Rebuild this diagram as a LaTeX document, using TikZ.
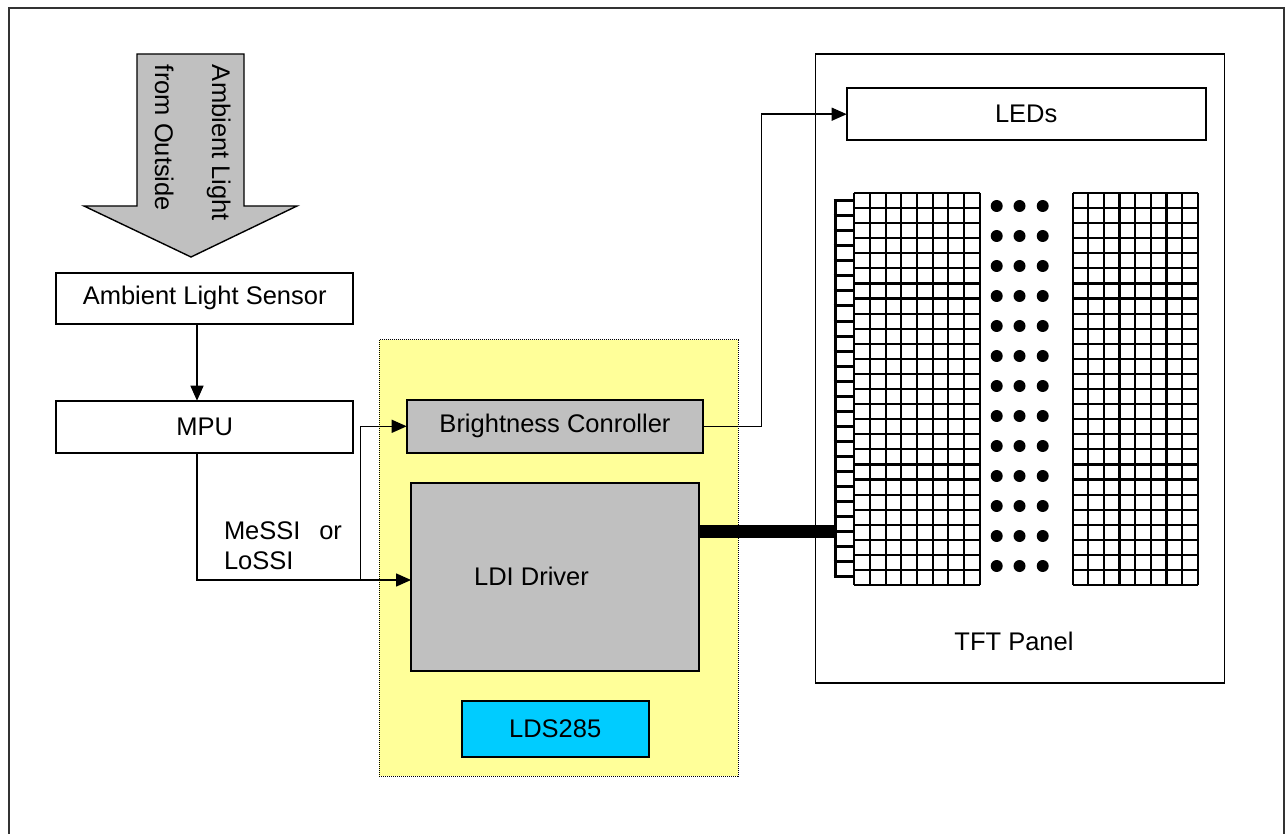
\documentclass[tikz,border=0pt]{standalone}
\usepackage{fontspec}
\setmainfont{Liberation Sans}
\usetikzlibrary{arrows.meta}
\definecolor{boxgray}{HTML}{C0C0C0}
\definecolor{chipyellow}{HTML}{FFFF99}
\definecolor{chipcyan}{HTML}{00CCFF}
\definecolor{framegray}{HTML}{333333}
\begin{document}
\begin{tikzpicture}[x=1pt,y=-1pt,
  font=\fontsize{25.5}{30.6}\selectfont,
  blk/.style={draw=black, line width=1.9pt, inner sep=0pt, outer sep=0pt, fill=white},
  conn/.style={draw=black, line width=1.4pt},
  arr/.style={conn, -{Triangle[length=15pt,width=13pt]}},
  gridln/.style={line width=2.2pt, black},
  rung/.style={line width=3pt, black},
  lbl/.style={inner sep=0pt, outer sep=0pt},
]
\useasboundingbox (0,0) rectangle (1288,834);
\fill[white] (0,0) rectangle (1288,834);
% outer frame
\draw[framegray, line width=2.5pt] (9,860) -- (9,8) -- (1284,8) -- (1284,860);

% big arrow of ambient light
\draw[fill=boxgray, line width=1.4pt, line join=miter]
  (137,54) -- (244,54) -- (244,206) -- (297,206) -- (191,257) -- (84,206) -- (137,206) -- cycle;
\node[lbl, rotate=-90, anchor=base west] (amb1) at (212,65) {Ambient Light};
\node[lbl, rotate=-90, anchor=base west] (amb2) at (155,65) {from Outside};

% left blocks
\node[blk, minimum width=297pt, minimum height=51.3pt] (sensor) at (204.7,298.3) {Ambient Light Sensor};
\node[blk, minimum width=297pt, minimum height=52pt] (mpu) at (204.7,426.7) {MPU};

% chip area
\node[draw=black, fill=chipyellow, line width=1pt, dash pattern=on 1pt off 1pt,
      minimum width=359pt, minimum height=436pt, inner sep=0pt] (chip) at (558.8,558) {};
\node[blk, fill=boxgray, minimum width=296.6pt, minimum height=52.7pt] (bright) at (555,426.3) {Brightness Conroller};
\node[blk, fill=boxgray, minimum width=288.3pt, minimum height=188.3pt] (ldi) at (555.2,576.8) {};
\node[lbl] (ldilabel) at (531.5,576) {LDI Driver};
\node[blk, fill=chipcyan, minimum width=187pt, minimum height=56pt] (lds) at (555.2,729) {LDS285};

% TFT panel
\node[blk, line width=1.5pt, minimum width=408.6pt, minimum height=629pt] (tft) at (1020,368.5) {};
\node[lbl] (tftlabel) at (1014,641) {TFT Panel};
\node[blk, minimum width=359pt, minimum height=51.7pt] (leds) at (1026.2,114.2) {LEDs};

% pixel grids
\foreach \i in {0,...,26} {
  \draw[gridln] (854.3,193+\i*15.08) -- (979.7,193+\i*15.08);
  \draw[gridln] (1072.7,193+\i*15.08) -- (1197.7,193+\i*15.08);
}
\foreach \j in {0,...,8} {
  \draw[gridln] (854.3+\j*15.675,193) -- (854.3+\j*15.675,585);
  \draw[gridln] (1072.7+\j*15.625,193) -- (1072.7+\j*15.625,585);
}
% gate ladder
\draw[rung] (835,199.2) -- (835,578.2);
\foreach \k in {0,...,25} \draw[rung] (833.5,200.7+\k*15.04) -- (854.3,200.7+\k*15.04);
% dots
\foreach \r in {0,...,12} \foreach \c in {996.7,1019.5,1042.7} \fill (\c,206+\r*30) circle (6pt);

% bus
\coordinate (busend) at (836,531.5);
\draw[line width=13.3pt] (ldi.east |- busend) -- (busend);

% connectors
\coordinate (mpux) at (197,0);
\coordinate (junc) at (360.5,580);
\coordinate (ledx) at (761.5,0);
\draw[arr] (sensor.south -| mpux) -- (mpu.north -| mpux);
\draw[arr] (mpu.south -| mpux) |- (ldi.west |- junc);
\draw[arr] (junc) |- (bright.west);
\draw[arr] (bright.east) -- (bright.east -| ledx) |- (leds.west);

% protocol label
\node[lbl, text width=118pt, align=justify, anchor=north west] (proto) at (224,521.5) {MeSSI or LoSSI};
\end{tikzpicture}
\end{document}
